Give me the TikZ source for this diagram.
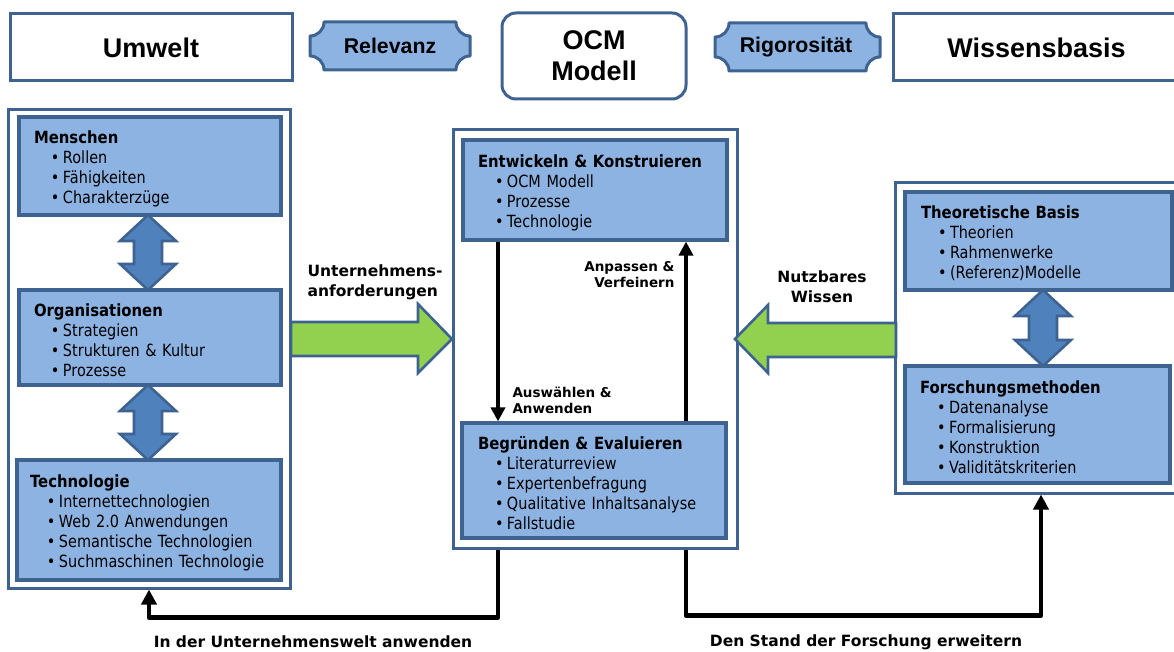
\documentclass[tikz,border=0pt]{standalone}
\usepackage{fontspec}
\setmainfont{DejaVu Sans}
\newfontfamily\boxfont[FakeStretch=0.86, BoldFeatures={FakeStretch=0.885}]{DejaVu Sans}
\newfontfamily\headfont{Liberation Sans}
\usetikzlibrary{arrows.meta}

\definecolor{lightblue}{HTML}{8DB3E2}
\definecolor{bordblue}{HTML}{3F6391}
\definecolor{arrowblue}{HTML}{4F81BD}
\definecolor{leafgreen}{HTML}{92D050}

% heading line and bullet line inside a content box
\newcommand{\ttl}[1]{\rule{0pt}{18pt}\textbf{#1}}
\newcommand{\bul}{\hspace*{17pt}\makebox[12pt][l]{•}}

% plaque shape: rectangle with concave corners
\newcommand{\plaque}[5]{%
  \draw[plaquestyle]
    ({#1+#5},#2) -- ({#3-#5},#2)
    .. controls ({#3-#5},{#2+0.55*#5}) and ({#3-0.55*#5},{#2+#5}) .. (#3,{#2+#5})
    -- (#3,{#4-#5})
    .. controls ({#3-0.55*#5},{#4-#5}) and ({#3-#5},{#4-0.55*#5}) .. ({#3-#5},#4)
    -- ({#1+#5},#4)
    .. controls ({#1+#5},{#4-0.55*#5}) and ({#1+0.55*#5},{#4-#5}) .. (#1,{#4-#5})
    -- (#1,{#2+#5})
    .. controls ({#1+0.55*#5},{#2+#5}) and ({#1+#5},{#2+0.55*#5}) .. ({#1+#5},#2)
    -- cycle;}

% vertical double-headed block arrow: centre x, top y, bottom y
\newcommand{\dblarrow}[3]{%
  \draw[blockarrow]
    (#1,#2) -- ({#1+28},{#2+26}) -- ({#1+14},{#2+26}) -- ({#1+14},{#3-26})
    -- ({#1+28},{#3-26}) -- (#1,#3) -- ({#1-28},{#3-26}) -- ({#1-14},{#3-26})
    -- ({#1-14},{#2+26}) -- ({#1-28},{#2+26}) -- cycle;}

\begin{document}
\begin{tikzpicture}[x=1pt,y=-1pt,
  outerbox/.style={draw=bordblue, line width=3pt, fill=white, inner sep=0pt},
  topbox/.style={outerbox, font=\headfont\bfseries\fontsize{27}{31}\selectfont, align=center},
  contentbox/.style={draw=bordblue, line width=3.2pt, fill=lightblue, inner ysep=0pt,
    align=left, font=\boxfont\fontsize{16.8}{20}\selectfont},
  plaquestyle/.style={draw=bordblue, line width=3pt, fill=lightblue, line join=round},
  plaquetext/.style={font=\headfont\bfseries\fontsize{21.3}{24}\selectfont},
  blockarrow/.style={draw=bordblue, line width=2.6pt, fill=arrowblue, line join=miter},
  greenarrow/.style={draw=bordblue, line width=2.6pt, fill=leafgreen, line join=miter},
  flowlabel/.style={font=\bfseries\fontsize{15.5}{20}\selectfont},
  innerlabel/.style={font=\bfseries\fontsize{13.5}{16}\selectfont},
  innerconn/.style={line width=3.5pt, -{Triangle[width=14pt,length=14pt]}},
  outerconn/.style={line width=4.5pt, line join=round, -{Triangle[width=15pt,length=15pt]}}
]
\useasboundingbox (0,0) rectangle (1174,652);
\clip (0,0) rectangle (1174,652);

% header row
\node[topbox, minimum width=282pt, minimum height=67pt] (umwelt) at (151,47.5) {Umwelt};
\node[topbox, minimum width=287pt, minimum height=67pt] (wissen) at (1036.5,47.5) {Wissensbasis};
\node[topbox, rounded corners=14pt, minimum width=184pt, minimum height=86pt] (ocm) at (594,56) {OCM\\Modell};
\plaque{310}{22}{470}{70}{14}
\node[plaquetext] (relevanz) at (390,46) {Relevanz};
\plaque{715}{23}{880}{71}{14}
\node[plaquetext] (rigor) at (796,47) {Rigorosität};

% three column frames
\node[outerbox, minimum width=282pt, minimum height=478pt] (outL) at (149,349) {};
\node[outerbox, minimum width=284pt, minimum height=418pt] (outC) at (595,339) {};
\node[outerbox, minimum width=285pt, minimum height=310pt] (outR) at (1037.5,338) {};

% left column
\node[contentbox, minimum width=262pt, minimum height=98pt, inner xsep=15pt, text width=232pt] (men) at (150,166)
  {\ttl{Menschen}\\ \bul Rollen\\ \bul Fähigkeiten\\ \bul Charakterzüge};
\node[contentbox, minimum width=262pt, minimum height=95pt, inner xsep=15pt, text width=232pt] (org) at (150,337.5)
  {\ttl{Organisationen}\\ \bul Strategien\\ \bul Strukturen \& Kultur\\ \bul Prozesse};
\node[contentbox, minimum width=264pt, minimum height=120pt, inner xsep=13pt, text width=238pt] (tec) at (149,520)
  {\ttl{Technologie}\\ \bul Internettechnologien\\ \bul Web 2.0 Anwendungen\\ \bul Semantische Technologien\\ \bul Suchmaschinen Technologie};
\dblarrow{148}{215}{290}
\dblarrow{148}{385}{460}

% centre column
\node[contentbox, minimum width=264pt, minimum height=100pt, inner xsep=15pt, text width=234pt] (ent) at (595,190)
  {\ttl{Entwickeln \& Konstruieren}\\ \bul OCM Modell\\ \bul Prozesse\\ \bul Technologie};
\node[contentbox, minimum width=264pt, minimum height=115pt, inner xsep=16pt, text width=232pt] (beg) at (594,480.5)
  {\ttl{Begründen \& Evaluieren}\\ \bul Literaturreview\\ \bul Expertenbefragung\\ \bul Qualitative Inhaltsanalyse\\ \bul Fallstudie};

% right column
\node[contentbox, minimum width=267pt, minimum height=98pt, inner xsep=16pt, text width=235pt] (the) at (1038.5,241)
  {\ttl{Theoretische Basis}\\ \bul Theorien\\ \bul Rahmenwerke\\ \bul (Referenz)Modelle};
\node[contentbox, minimum width=265pt, minimum height=117pt, inner xsep=15pt, text width=235pt] (for) at (1037.5,424.5)
  {\ttl{Forschungsmethoden}\\ \bul Datenanalyse\\ \bul Formalisierung\\ \bul Konstruktion\\ \bul Validitätskriterien};
\dblarrow{1043}{290}{366}

% green block arrows into the centre column
\draw[greenarrow] (291,322) -- (418,322) -- (418,304) -- (452,339) -- (418,373) -- (418,356) -- (291,356) -- cycle;
\draw[greenarrow] (896,323) -- (768,323) -- (768,305) -- (735,339) -- (768,373) -- (768,357) -- (896,357) -- cycle;
\node[flowlabel, align=left, anchor=west] (req) at (304,282) {Unternehmens-\\anforderungen};
\node[flowlabel, align=center] (use) at (822,287) {Nutzbares\\Wissen};

% cycle inside the centre column
\coordinate (dx) at (498,0);
\coordinate (ux) at (686,0);
\draw[innerconn] (ent.south -| dx) -- (beg.north -| dx);
\draw[innerconn] (beg.north -| ux) -- (ent.south -| ux);
\node[innerlabel, align=right, anchor=east] (adapt) at (678,275) {Anpassen \&\\Verfeinern};
\node[innerlabel, align=left, anchor=west] (select) at (509,400) {Auswählen \&\\Anwenden};

% feedback to environment and knowledge base
\coordinate (rx) at (1041,0);
\draw[outerconn] (outC.south -| dx) -- ++(0,68) -| (outL.south);
\draw[outerconn] (outC.south -| ux) -- ++(0,66) -| (outR.south -| rx);
\node[flowlabel] (apply) at (313,642) {In der Unternehmenswelt anwenden};
\node[flowlabel] (extend) at (866,642) {Den Stand der Forschung erweitern};
\end{tikzpicture}
\end{document}
